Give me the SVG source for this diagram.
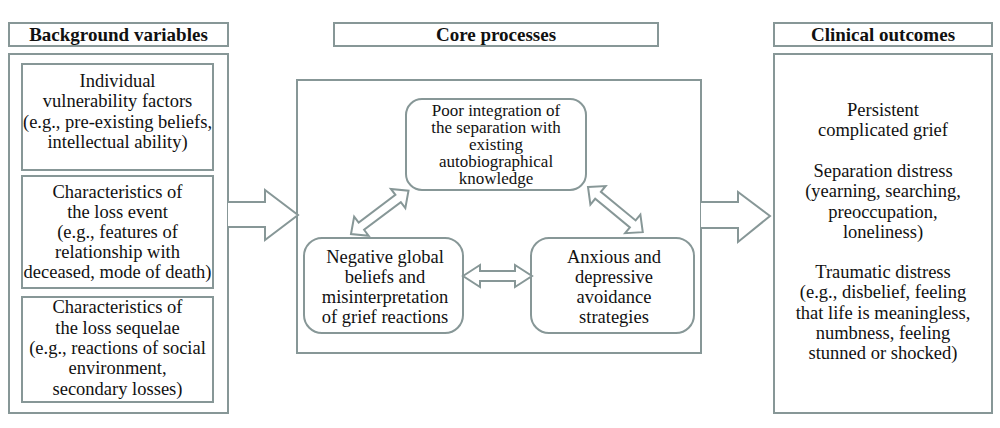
<svg xmlns="http://www.w3.org/2000/svg" width="1000" height="428" viewBox="0 0 1000 428">
<defs>
<style>
.box{fill:#fff;stroke:#879797;stroke-width:2}
.ln{fill:#fff;stroke:#879797;stroke-width:2;stroke-linejoin:miter}
.t{font-family:"Liberation Serif","Times New Roman",serif;font-size:18.5px;fill:#111;text-anchor:middle}
.s{font-size:17px}
.h{font-family:"Liberation Serif","Times New Roman",serif;font-size:19px;font-weight:bold;fill:#111;text-anchor:middle}
</style>
</defs>
<rect width="1000" height="428" fill="#fff"/>

<g id="hdr-background">
<rect class="box" x="9" y="23" width="219" height="23"/>
<text class="h" x="118.5" y="41">Background variables</text>
</g>
<g id="hdr-core">
<rect class="box" x="334" y="23" width="324" height="23"/>
<text class="h" x="496" y="41">Core processes</text>
</g>
<g id="hdr-clinical">
<rect class="box" x="774" y="23" width="218" height="23"/>
<text class="h" x="883" y="41">Clinical outcomes</text>
</g>

<g id="background-panel">
<rect class="box" x="9" y="54" width="219" height="359"/>
</g>
<g id="individual">
<rect class="box" x="22" y="64" width="191" height="106"/>
<text class="t" x="117.5" y="87">Individual</text>
<text class="t" x="117.5" y="107">vulnerability factors</text>
<text class="t" x="117.5" y="128">(e.g., pre-existing beliefs,</text>
<text class="t" x="117.5" y="148">intellectual ability)</text>
</g>
<g id="loss-event">
<rect class="box" x="22" y="176" width="191" height="112"/>
<text class="t" x="117.5" y="198">Characteristics of</text>
<text class="t" x="117.5" y="218">the loss event</text>
<text class="t" x="117.5" y="238">(e.g., features of</text>
<text class="t" x="117.5" y="258">relationship with</text>
<text class="t" x="117.5" y="278">deceased, mode of death)</text>
</g>
<g id="loss-sequelae">
<rect class="box" x="22" y="297" width="191" height="105"/>
<text class="t" x="117.5" y="313">Characteristics of</text>
<text class="t" x="117.5" y="334">the loss sequelae</text>
<text class="t" x="117.5" y="354">(e.g., reactions of social</text>
<text class="t" x="117.5" y="374">environment,</text>
<text class="t" x="117.5" y="395">secondary losses)</text>
</g>

<g id="core-panel">
<rect class="box" x="297" y="80" width="404" height="273"/>
</g>
<g id="poor-integration">
<rect class="box" x="406" y="99" width="180" height="91" rx="16"/>
<text class="t s" x="496" y="116">Poor integration of</text>
<text class="t s" x="496" y="133">the separation with</text>
<text class="t s" x="496" y="150">existing</text>
<text class="t s" x="496" y="167">autobiographical</text>
<text class="t s" x="496" y="184">knowledge</text>
</g>
<g id="negative-beliefs">
<rect class="box" x="304" y="238" width="159" height="95" rx="18"/>
<text class="t" x="385" y="263">Negative global</text>
<text class="t" x="385" y="283">beliefs and</text>
<text class="t" x="385" y="303">misinterpretation</text>
<text class="t" x="385" y="323">of grief reactions</text>
</g>
<g id="avoidance">
<rect class="box" x="531" y="238" width="163" height="95" rx="18"/>
<text class="t" x="614" y="263">Anxious and</text>
<text class="t" x="614" y="283">depressive</text>
<text class="t" x="614" y="303">avoidance</text>
<text class="t" x="614" y="323">strategies</text>
</g>

<g id="clinical-panel">
<rect class="box" x="774" y="54" width="218" height="359"/>
<text class="t" x="883" y="116">Persistent</text>
<text class="t" x="883" y="136">complicated grief</text>
<text class="t" x="883" y="177">Separation distress</text>
<text class="t" x="883" y="197">(yearning, searching,</text>
<text class="t" x="883" y="218">preoccupation,</text>
<text class="t" x="883" y="238">loneliness)</text>
<text class="t" x="883" y="278">Traumatic distress</text>
<text class="t" x="883" y="298">(e.g., disbelief, feeling</text>
<text class="t" x="883" y="319">that life is meaningless,</text>
<text class="t" x="883" y="339">numbness, feeling</text>
<text class="t" x="883" y="359">stunned or shocked)</text>
</g>

<g id="connectors">
<polyline class="ln" points="228,202 265,202 265,190 298,215 265,240 265,227 228,227"/>
<polyline class="ln" points="701,202 738,202 738,192 770,216 738,242 738,228 701,228"/>
<polygon class="ln" points="463,276 480,265 480,271 515,271 515,265 532,276 515,287 515,281 480,281 480,287"/>
<polygon class="ln" transform="translate(351,234) rotate(-37)" points="0,0 13,-12 13,-4.5 59,-4.5 59,-12 72,0 59,12 59,4.5 13,4.5 13,12"/>
<polygon class="ln" transform="translate(588,187) rotate(39.5)" points="0,0 13,-12 13,-4.5 58,-4.5 58,-12 71,0 58,12 58,4.5 13,4.5 13,12"/>
</g>
</svg>
